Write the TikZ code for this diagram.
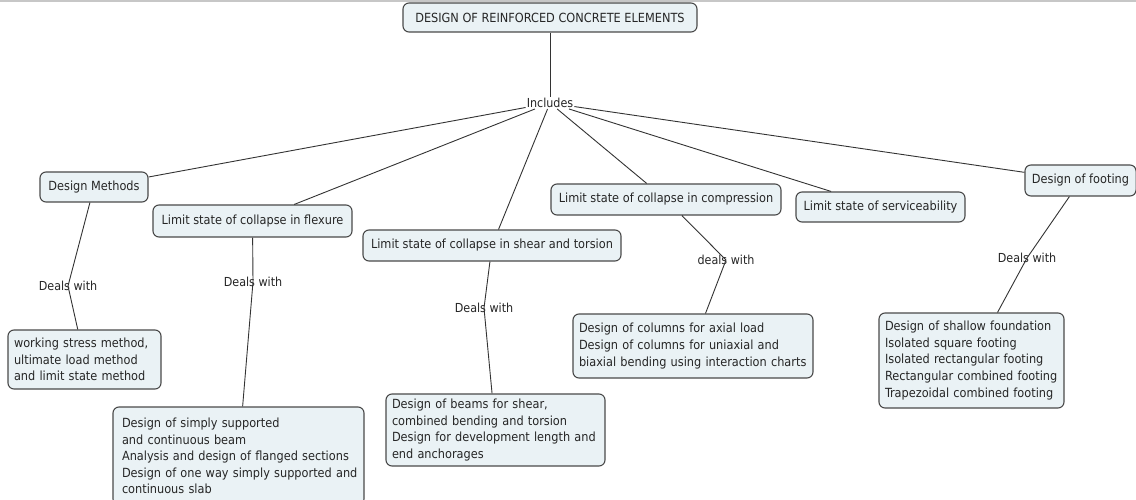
\documentclass[tikz,border=0pt]{standalone}
\usepackage{fontspec}
\setmainfont{DejaVu Sans Condensed}
\definecolor{boxfill}{HTML}{EAF2F5}
\definecolor{boxline}{HTML}{4A4A4A}
\definecolor{txt}{HTML}{262626}
\definecolor{lnk}{HTML}{333333}
\begin{document}
\begin{tikzpicture}[x=1pt,y=-1pt,
  concept/.style={draw=boxline, fill=boxfill, line width=1.1pt, rounded corners=6pt,
     text=txt, inner xsep=7pt, inner ysep=0pt, font=\fontsize{12.6}{16.6}\selectfont},
  single/.style={concept, align=center},
  multi/.style={concept, align=left, inner xsep=6pt},
  linklabel/.style={text=txt, inner sep=1pt, font=\fontsize{12.4}{14}\selectfont},
  conn/.style={draw=lnk, line width=0.9pt}]
\clip (0,0) rectangle (1136,500);
\fill[white] (0,0) rectangle (1136,500);
\draw[color=black!22, line width=2pt] (0,1) -- (1136,1);

% concepts
\node[single, minimum width=294pt, minimum height=29pt] (root) at (550,17.5) {DESIGN OF REINFORCED CONCRETE ELEMENTS};
\node[single, minimum width=108pt, minimum height=30pt] (dm) at (94,187) {Design Methods};
\node[single, minimum width=199pt, minimum height=32pt] (flex) at (252.5,221) {Limit state of collapse in flexure};
\node[single, minimum width=258pt, minimum height=31pt] (shear) at (492,245.5) {Limit state of collapse in shear and torsion};
\node[single, minimum width=230pt, minimum height=31pt] (comp) at (666,199.5) {Limit state of collapse in compression};
\node[single, minimum width=169pt, minimum height=30pt] (serv) at (880.5,207) {Limit state of serviceability};
\node[single, minimum width=109pt, minimum height=31pt] (foot) at (1080.5,180.5) {Design of footing};

\node[multi, minimum width=153pt, minimum height=59pt, text width=141pt] (ws) at (84.5,359.5)
  {working stress method,\\ultimate load method\\and limit state method};
\node[multi, minimum width=251pt, minimum height=98pt, text width=239pt] (flexd) at (238.5,456)
  {\hspace*{3pt}Design of simply supported\\\hspace*{3pt}and continuous beam\\\hspace*{3pt}Analysis and design of flanged sections\\\hspace*{3pt}Design of one way simply supported and\\\hspace*{3pt}continuous slab};
\node[multi, minimum width=219pt, minimum height=72pt, text width=207pt] (sheard) at (495.5,430)
  {Design of beams for shear,\\combined bending and torsion\\Design for development length and\\end anchorages};
\node[multi, minimum width=240pt, minimum height=64pt, text width=228pt] (compd) at (693,346)
  {Design of columns for axial load\\Design of columns for uniaxial and\\biaxial bending using interaction charts};
\node[multi, minimum width=185pt, minimum height=95pt, text width=173pt] (footd) at (971.5,360.5)
  {Design of shallow foundation\\Isolated square footing\\Isolated rectangular footing\\Rectangular combined footing\\Trapezoidal combined footing};

% link labels
\node[linklabel] (inc) at (550,103) {Includes};
\node[linklabel] (dl1) at (68,286) {Deals with};
\node[linklabel] (dl2) at (253,282) {Deals with};
\node[linklabel] (dl3) at (484,308) {Deals with};
\node[linklabel] (dl4) at (726,260) {deals with};
\node[linklabel] (dl5) at (1027,258) {Deals with};

% connectors
\path[conn] (root) -- (inc);
\path[conn] (inc) -- (dm);
\path[conn] (inc) -- (flex);
\path[conn] (inc) -- (shear);
\path[conn] (inc) -- (comp);
\path[conn] (inc) -- (serv);
\path[conn] (inc) -- (foot);

\path[conn] (dm) -- (dl1.center);
\path[conn] (dl1.center) -- (ws);
\path[conn] (flex) -- (dl2.center);
\path[conn] (dl2.center) -- (flexd);
\path[conn] (shear) -- (dl3.center);
\path[conn] (dl3.center) -- (sheard);
\path[conn] (comp) -- (dl4.center);
\path[conn] (dl4.center) -- (compd);
\path[conn] (foot) -- (dl5.center);
\path[conn] (dl5.center) -- (footd);
\end{tikzpicture}
\end{document}
